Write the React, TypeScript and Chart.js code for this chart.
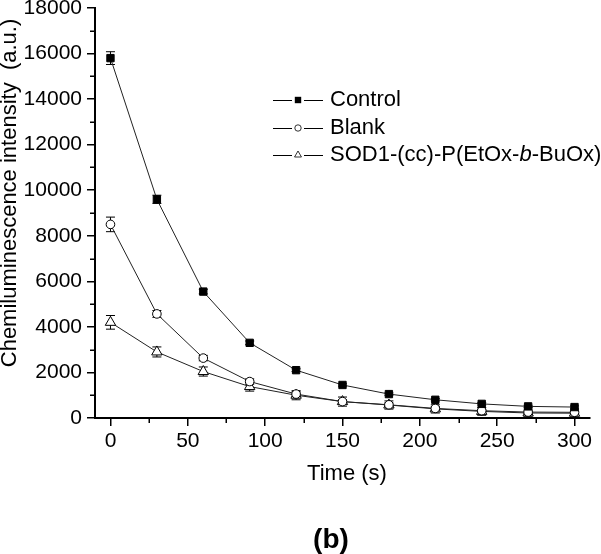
import React, { useEffect, useRef } from 'react';
import { Chart, registerables } from 'chart.js';

Chart.register(...registerables);

const FONT = "'Liberation Sans', Arial, Helvetica, sans-serif";

const times = [0, 30, 60, 90, 120, 150, 180, 210, 240, 270, 300];
const controlValues = [15800, 9600, 5550, 3300, 2100, 1450, 1050, 800, 620, 510, 480];
const controlErrors = [280, 180, 100, 80, 60, 50, 50, 50, 50, 50, 50];
const blankValues = [8500, 4570, 2630, 1600, 1050, 720, 580, 420, 320, 260, 250];
const blankErrors = [320, 150, 120, 120, 100, 80, 80, 80, 60, 60, 60];
const sodValues = [4200, 2900, 2040, 1380, 1000, 720, 570, 400, 290, 220, 210];
const sodErrors = [300, 220, 200, 200, 200, 200, 180, 180, 170, 170, 170];

const xTicks = [0, 50, 100, 150, 200, 250, 300];
const xMinorTicks = [25, 75, 125, 175, 225, 275];
const yTicks = [0, 2000, 4000, 6000, 8000, 10000, 12000, 14000, 16000, 18000];
const yMinorTicks = [1000, 3000, 5000, 7000, 9000, 11000, 13000, 15000, 17000];

const xTitle = 'Time (s)';
const yTitle = 'Chemiluminescence intensity  (a.u.)';
const panelLabel = '(b)';
const legendLabels = [
  [{ t: 'Control', i: false }],
  [{ t: 'Blank', i: false }],
  [
    { t: 'SOD1-(cc)-P(EtOx-', i: false },
    { t: 'b', i: true },
    { t: '-BuOx)', i: false },
  ],
];
const legendStyles = ['rect', 'circle', 'triangle'];

const errorSets = [controlErrors, blankErrors, sodErrors];

function drawMarker(ctx: CanvasRenderingContext2D, style: string, x: number, y: number, s: number) {
  ctx.beginPath();
  if (style === 'rect') {
    ctx.fillStyle = '#000';
    ctx.fillRect(x - s, y - s, 2 * s, 2 * s);
    return;
  }
  if (style === 'circle') {
    ctx.arc(x, y, s, 0, Math.PI * 2);
  } else {
    const r = s * 1.25;
    ctx.moveTo(x, y - r);
    ctx.lineTo(x + r * 0.866, y + r * 0.5);
    ctx.lineTo(x - r * 0.866, y + r * 0.5);
    ctx.closePath();
  }
  ctx.fillStyle = '#fff';
  ctx.fill();
  ctx.strokeStyle = '#000';
  ctx.lineWidth = 0.8;
  ctx.stroke();
}

const extrasPlugin = {
  id: 'extras',
  beforeDatasetsDraw(chart: any) {
    const ctx = chart.ctx as CanvasRenderingContext2D;
    const xs = chart.scales.x;
    const ys = chart.scales.y;
    ctx.save();
    ctx.strokeStyle = '#000';
    ctx.lineWidth = 1;
    chart.data.datasets.forEach((ds: any, di: number) => {
      const errs = errorSets[di];
      ds.data.forEach((pt: any, i: number) => {
        const px = xs.getPixelForValue(pt.x);
        const top = ys.getPixelForValue(pt.y + errs[i]);
        const bot = ys.getPixelForValue(pt.y - errs[i]);
        ctx.beginPath();
        ctx.moveTo(px, top);
        ctx.lineTo(px, bot);
        ctx.moveTo(px - 4.5, top);
        ctx.lineTo(px + 4.5, top);
        ctx.moveTo(px - 4.5, bot);
        ctx.lineTo(px + 4.5, bot);
        ctx.stroke();
      });
    });
    ctx.restore();
  },
  afterDraw(chart: any) {
    const ctx = chart.ctx as CanvasRenderingContext2D;
    const xs = chart.scales.x;
    const ys = chart.scales.y;
    const area = chart.chartArea;
    ctx.save();
    // minor ticks
    ctx.strokeStyle = '#000';
    ctx.lineWidth = 1.5;
    ctx.beginPath();
    xMinorTicks.forEach((v) => {
      const px = Math.round(xs.getPixelForValue(v)) + 0.25;
      ctx.moveTo(px, area.bottom);
      ctx.lineTo(px, area.bottom + 5);
    });
    yMinorTicks.forEach((v) => {
      const py = Math.round(ys.getPixelForValue(v)) + 0.25;
      ctx.moveTo(area.left, py);
      ctx.lineTo(area.left - 5, py);
    });
    ctx.stroke();

    // axis titles
    ctx.fillStyle = '#000';
    ctx.font = `22px ${FONT}`;
    ctx.textAlign = 'center';
    ctx.textBaseline = 'middle';
    ctx.fillText(xTitle, 347, 474);
    ctx.save();
    ctx.translate(10, 193);
    ctx.rotate(-Math.PI / 2);
    ctx.fillText(yTitle, 0, 0);
    ctx.restore();
    ctx.font = `bold 28px ${FONT}`;
    ctx.fillText(panelLabel, 331, 540);

    // legend
    const lx0 = 273;
    const lx1 = 323;
    const mx = 298;
    const tx = 330;
    const rowY = [100, 128, 155];
    legendLabels.forEach((parts, k) => {
      const y = rowY[k];
      ctx.strokeStyle = '#000';
      ctx.lineWidth = 1;
      ctx.beginPath();
      ctx.moveTo(lx0, y + 0.5);
      ctx.lineTo(mx - 6, y + 0.5);
      ctx.moveTo(mx + 6, y + 0.5);
      ctx.lineTo(lx1, y + 0.5);
      ctx.stroke();
      drawMarker(ctx, legendStyles[k], mx, y, 3.2);
      let x = tx;
      ctx.textAlign = 'left';
      ctx.textBaseline = 'middle';
      ctx.fillStyle = '#000';
      parts.forEach((p) => {
        ctx.font = `${p.i ? 'italic ' : ''}22px ${FONT}`;
        ctx.fillText(p.t, x, y);
        x += ctx.measureText(p.t).width;
      });
    });
    ctx.restore();
  },
};

export default function App() {
  const ref = useRef<HTMLCanvasElement>(null);
  useEffect(() => {
    if (!ref.current) return;
    const mk = (vals: number[]) => times.map((t, i) => ({ x: t, y: vals[i] }));
    const common = {
      borderColor: '#222',
      borderWidth: 1,
      pointBorderColor: '#000',
      pointBorderWidth: 1,
      showLine: true,
      tension: 0,
    };
    const chart = new Chart(ref.current, {
      type: 'scatter',
      data: {
        datasets: [
          { ...common, label: 'Control', data: mk(controlValues), pointStyle: 'rect', pointRadius: 5.2, pointBackgroundColor: '#000' },
          { ...common, label: 'Blank', data: mk(blankValues), pointStyle: 'circle', pointRadius: 4.3, pointBackgroundColor: '#fff' },
          { ...common, label: 'SOD', data: mk(sodValues), pointStyle: 'triangle', pointRadius: 6, pointBackgroundColor: '#fff' },
        ],
      },
      options: {
        animation: false,
        responsive: false,
        devicePixelRatio: 1,
        layout: { padding: { top: 8, right: 11, left: 0, bottom: 0 } },
        plugins: { legend: { display: false }, tooltip: { enabled: false } },
        scales: {
          x: {
            type: 'linear',
            min: -10,
            max: 310,
            afterBuildTicks: (s: any) => { s.ticks = xTicks.map((v) => ({ value: v })); },
            afterFit: (s: any) => { s.height = 136; s.paddingLeft = 0; s.paddingRight = 0; },
            ticks: { color: '#000', font: { family: FONT, size: 21 }, padding: 3, maxRotation: 0, autoSkip: false, callback: (v: any) => String(v) },
            grid: { drawOnChartArea: false, drawTicks: true, tickLength: 8, color: '#000', lineWidth: 1.5 },
            border: { display: true, color: '#000', width: 2 },
          },
          y: {
            type: 'linear',
            min: 0,
            max: 18000,
            afterBuildTicks: (s: any) => { s.ticks = yTicks.map((v) => ({ value: v })); },
            afterFit: (s: any) => { s.width = 95; s.paddingTop = 0; s.paddingBottom = 0; },
            ticks: { color: '#000', font: { family: FONT, size: 21 }, padding: 5, autoSkip: false, callback: (v: any) => String(v) },
            grid: { drawOnChartArea: false, drawTicks: true, tickLength: 8, color: '#000', lineWidth: 1.5 },
            border: { display: true, color: '#000', width: 2 },
          },
        },
      },
      plugins: [extrasPlugin],
    } as any);
    return () => chart.destroy();
  }, []);
  return (
    <div style={{ position: 'fixed', left: 0, top: 0, width: 601, height: 554, background: '#fff' }}>
      <canvas ref={ref} width={601} height={554} style={{ display: 'block' }} />
    </div>
  );
}
